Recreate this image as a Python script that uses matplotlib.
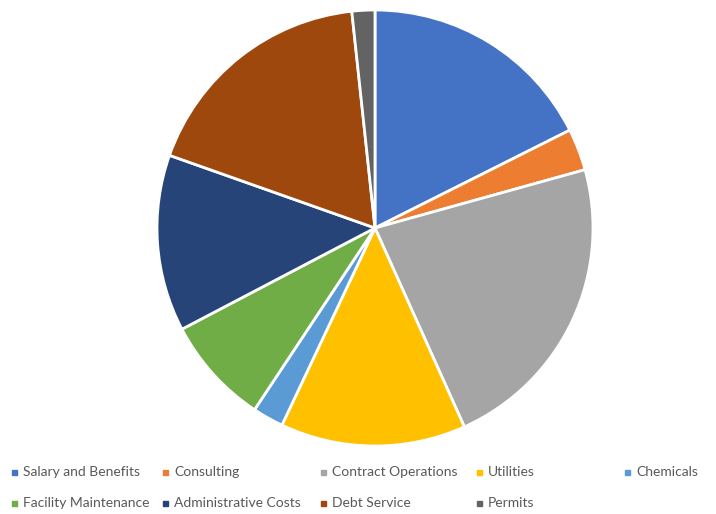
import matplotlib
matplotlib.use("Agg")
import matplotlib.pyplot as plt
from matplotlib.patches import Rectangle

categories = ["Salary and Benefits", "Consulting", "Contract Operations", "Utilities",
              "Chemicals", "Facility Maintenance", "Administrative Costs", "Debt Service", "Permits"]
values = [17.6, 3.1, 22.6, 13.75, 2.3, 8.0, 13.1, 17.9, 1.7]
colors = ["#4472C4", "#ED7D31", "#A5A5A5", "#FFC000", "#5B9BD5",
          "#70AD47", "#264478", "#9E480E", "#636363"]

W, H = 716, 514
fig = plt.figure(figsize=(W / 100, H / 100), dpi=100)
cx, cy, r = 375, 228, 218
ax = fig.add_axes([(cx - r) / W, (H - cy - r) / H, 2 * r / W, 2 * r / H])
ax.pie(values, colors=colors, startangle=90, counterclock=False,
       wedgeprops=dict(edgecolor="white", linewidth=2))
ax.set_xlim(-1, 1)
ax.set_ylim(-1, 1)
ax.set_aspect("equal")
ax.axis("off")

# legend laid out like Excel (fixed column positions)
pos = [(12, 472), (163, 472), (321, 472), (477, 472), (625, 472),
       (12, 503), (163, 503), (321, 503), (477, 503)]
for (x, y), lab, c in zip(pos, categories, colors):
    s = 5
    fig.patches.append(Rectangle(((x) / W, (H - y - s / 2) / H), s / W, s / H,
                                 transform=fig.transFigure, color=c))
    fig.text((x + 11) / W, (H - y) / H, lab, ha="left", va="center",
             fontsize=10, color="#595959", family=["Lato", "DejaVu Sans"])

fig.savefig("out.png", dpi=100)
